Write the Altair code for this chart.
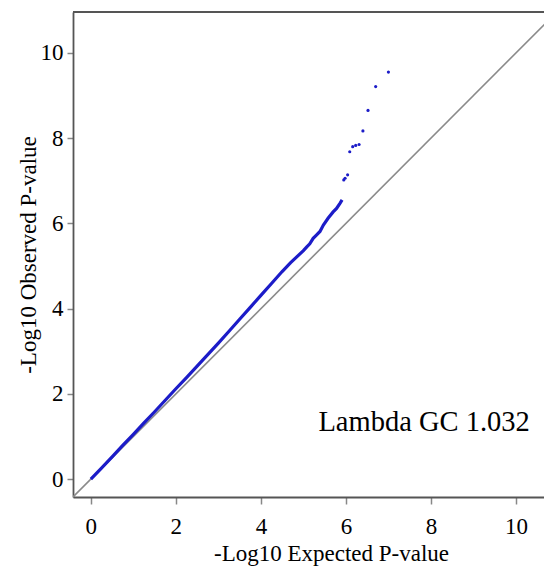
import altair as alt
import pandas as pd

# Dense part of the QQ curve (expected vs observed -log10 p)
dense_expected = [0.00, 0.25, 0.50, 0.75, 1.00, 1.25, 1.50, 1.75, 2.00, 2.25, 2.50, 2.75,
                  3.00, 3.25, 3.50, 3.75, 4.00, 4.25, 4.50, 4.70, 4.85, 5.00, 5.08, 5.15,
                  5.23, 5.30, 5.39, 5.47, 5.58, 5.70, 5.78, 5.86, 5.91]
dense_observed = [0.00, 0.26, 0.52, 0.79, 1.05, 1.32, 1.58, 1.85, 2.12, 2.38, 2.65, 2.92,
                  3.19, 3.47, 3.75, 4.03, 4.31, 4.59, 4.87, 5.08, 5.22, 5.36, 5.45, 5.52,
                  5.65, 5.72, 5.81, 5.96, 6.12, 6.27, 6.35, 6.47, 6.55]

# Sparse tail points
tail_expected = [5.95, 5.98, 6.04, 6.09, 6.16, 6.23, 6.31, 6.40, 6.52, 6.70, 7.00]
tail_observed = [7.02, 7.06, 7.14, 7.68, 7.80, 7.83, 7.85, 8.17, 8.65, 9.21, 9.55]

diag_vals = [-0.42, 11.5]
tick_vals = [0, 2, 4, 6, 8, 10]
annotation = "Lambda GC 1.032"

X_DOMAIN = [-0.42, 10.66]
Y_DOMAIN = [-0.42, 10.96]
W, H = 471, 485

dense = pd.DataFrame({"e": dense_expected, "o": dense_observed})
tail = pd.DataFrame({"e": tail_expected, "o": tail_observed})
diag = pd.DataFrame({"e": diag_vals, "o": diag_vals})
ann = pd.DataFrame({"e": [7.84], "o": [1.34], "t": [annotation]})

FONT = "Liberation Serif"

xs = alt.Scale(domain=X_DOMAIN, nice=False, zero=False)
ys = alt.Scale(domain=Y_DOMAIN, nice=False, zero=False)

x_axis = alt.Axis(values=tick_vals, title="-Log10 Expected P-value", grid=False,
                  labelFont=FONT, labelFontSize=23, labelColor="#000",
                  titleFont=FONT, titleFontSize=23, titleFontWeight="normal", titleColor="#000",
                  tickSize=7, tickColor="#888", tickWidth=1.5,
                  domainColor="#555", domainWidth=1.8, labelPadding=11,
                  titleX=258, titleY=63, titleBaseline="alphabetic", titleAlign="center",
                  titleAnchor="start")
y_axis = alt.Axis(values=tick_vals, title="-Log10 Observed P-value", grid=False,
                  labelFont=FONT, labelFontSize=23, labelColor="#000",
                  titleFont=FONT, titleFontSize=23, titleFontWeight="normal", titleColor="#000",
                  tickSize=6, tickColor="#888", tickWidth=1.5,
                  domainColor="#555", domainWidth=1.8, labelPadding=4,
                  titleX=-38, titleBaseline="alphabetic")

diag_line = alt.Chart(diag).mark_line(color="#8a8a8a", strokeWidth=1.6, clip=True).encode(
    x=alt.X("e:Q", scale=xs, axis=x_axis),
    y=alt.Y("o:Q", scale=ys, axis=y_axis),
)

dense_line = alt.Chart(dense).mark_line(color="#1c1cc8", strokeWidth=3.2, clip=True).encode(
    x=alt.X("e:Q", scale=xs), y=alt.Y("o:Q", scale=ys)
)

tail_pts = alt.Chart(tail).mark_circle(color="#1c1cc8", size=10, opacity=1).encode(
    x=alt.X("e:Q", scale=xs), y=alt.Y("o:Q", scale=ys)
)

text = alt.Chart(ann).mark_text(font=FONT, fontSize=28.5, color="#000", align="center",
                                baseline="middle").encode(
    x=alt.X("e:Q", scale=xs), y=alt.Y("o:Q", scale=ys), text="t:N"
)

top_rule = alt.Chart(ann).mark_rule(color="#555", strokeWidth=1.8).encode(
    x=alt.value(0), x2=alt.value(W), y=alt.value(0)
)

chart = alt.layer(diag_line, dense_line, tail_pts, text, top_rule).properties(
    width=W, height=H,
    autosize="none",
    padding={"left": 65, "top": 4, "right": 0, "bottom": 71},
).configure_view(stroke=None).configure(background="white")

chart.save("out.html", embed_options={"renderer": "svg", "actions": False})
